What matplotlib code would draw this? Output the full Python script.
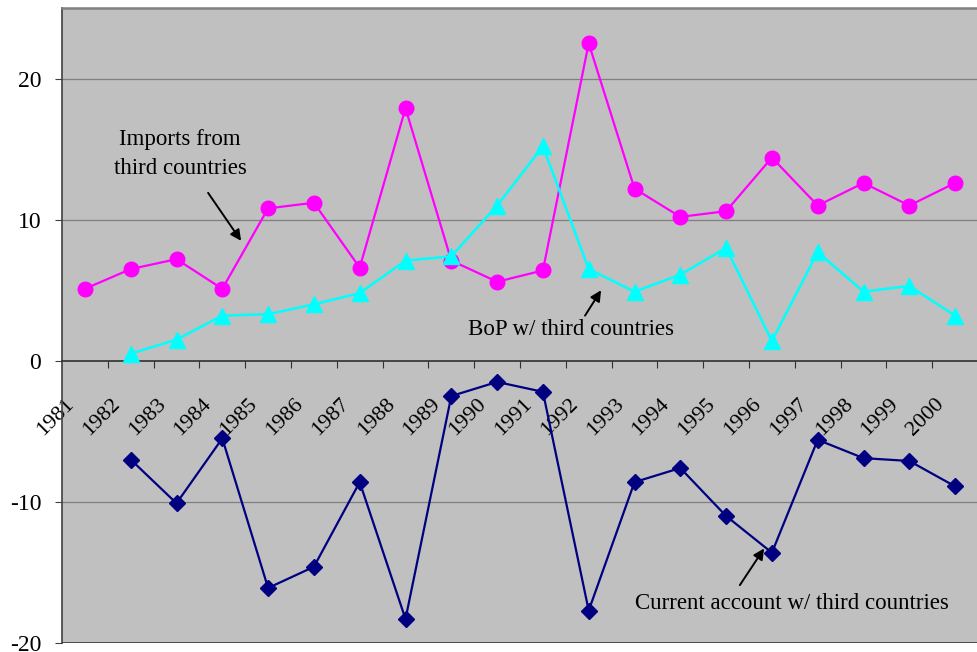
import numpy as np
import matplotlib.pyplot as plt

plt.rcParams['font.family'] = ['Liberation Serif', 'DejaVu Serif']
plt.rcParams['axes.unicode_minus'] = False

years = [str(y) for y in range(1981, 2001)]

imports = [5.1, 6.5, 7.2, 5.1, 10.8, 11.2, 6.6, 17.9, 7.1, 5.6,
           6.4, 22.5, 12.2, 10.2, 10.6, 14.4, 11.0, 12.6, 11.0, 12.6]
bop = [np.nan, 0.5, 1.5, 3.2, 3.3, 4.0, 4.8, 7.1, 7.4, 11.0,
       15.2, 6.5, 4.9, 6.1, 8.0, 1.4, 7.7, 4.9, 5.3, 3.2]
current = [np.nan, -7.0, -10.1, -5.5, -16.1, -14.6, -8.6, -18.3, -2.5, -1.5,
           -2.2, -17.7, -8.6, -7.6, -11.0, -13.6, -5.6, -6.9, -7.1, -8.9]

x = np.arange(len(years)) + 0.5
fs = 16.5

fig = plt.figure(figsize=(9.78, 6.52), dpi=100)
ax = fig.add_axes([62 / 978, 9 / 652, 1 - 62 / 978, 1 - 17 / 652])
ax.set_facecolor('#C0C0C0')

ax.set_xlim(0, 20)
ax.set_ylim(-20, 25)

# horizontal gridlines
for g in [20, 10, -10]:
    ax.axhline(g, color='#808080', lw=0.9, zorder=1)

ax.plot(x, imports, color='#FF00FF', lw=1.6, marker='o', ms=10.5, zorder=3)
ax.plot(x, bop, color='#00FFFF', lw=1.8, marker='^', ms=11, zorder=3)
ax.plot(x, current, color='#000080', lw=1.6, marker='D', ms=8, zorder=3)

# spines
ax.spines['top'].set_color('#808080')
ax.spines['top'].set_linewidth(1.8)
ax.spines['right'].set_visible(False)
ax.spines['left'].set_color('#404040')
ax.spines['left'].set_linewidth(1.2)
ax.spines['bottom'].set_position(('data', 0))
ax.spines['bottom'].set_color('#303030')
ax.spines['bottom'].set_linewidth(1.2)
ax.axhline(-20, color='#404040', lw=2.0, zorder=2)

ax.set_yticks([-20, -10, 0, 10, 20])
ax.tick_params(axis='y', direction='out', length=5, color='#404040',
               labelsize=17, pad=10)
ax.set_xticks(np.arange(1, 20))
ax.tick_params(axis='x', direction='out', length=5, color='#303030',
               labelbottom=False)

# rotated year labels hanging below the zero line
for i, lab in enumerate(years):
    ax.text(i + 0.06, -2.4, lab, rotation=45, ha='right', va='top',
            rotation_mode='anchor', fontsize=16, zorder=2)

# series labels with pointer arrows
arrow = dict(arrowstyle='-|>', color='black', lw=1.4, mutation_scale=16,
             shrinkA=0, shrinkB=0)
ax.text(2.58, 14.65, 'Imports from\nthird countries', ha='center', va='center',
        fontsize=fs, linespacing=1.55)
ax.annotate('', xy=(3.91, 8.5), xytext=(3.19, 11.9), arrowprops=arrow)

ax.text(11.11, 2.2, 'BoP w/ third countries', ha='center', va='center',
        fontsize=fs)
ax.annotate('', xy=(11.77, 5.0), xytext=(11.42, 3.2), arrowprops=arrow)

ax.text(15.94, -17.2, 'Current account w/ third countries', ha='center',
        va='center', fontsize=fs)
ax.annotate('', xy=(15.33, -13.3), xytext=(14.8, -15.9), arrowprops=arrow)

fig.savefig('out.png', dpi=100)
